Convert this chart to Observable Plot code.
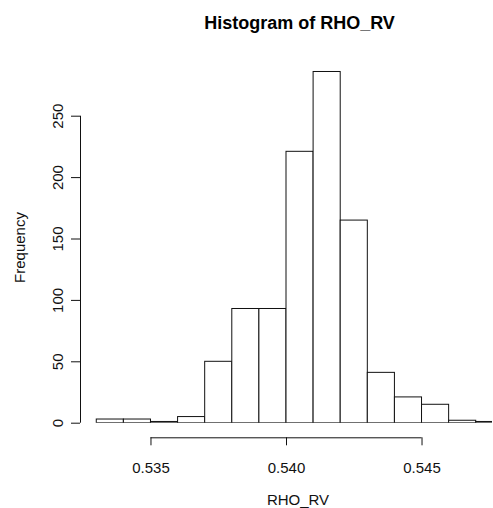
<!DOCTYPE html>
<html>
<head>
<meta charset="utf-8">
<script src="https://cdn.jsdelivr.net/npm/d3@7"></script>
<script src="https://cdn.jsdelivr.net/npm/@observablehq/plot@0.6"></script>
<style>
  body { margin: 0; background: white; }
</style>
</head>
<body>
<div id="chart"></div>
<script>
// Histogram data
const binStart = [0.533, 0.534, 0.535, 0.536, 0.537, 0.538, 0.539, 0.540, 0.541, 0.542, 0.543, 0.544, 0.545, 0.546, 0.547];
const binEnd   = [0.534, 0.535, 0.536, 0.537, 0.538, 0.539, 0.540, 0.541, 0.542, 0.543, 0.544, 0.545, 0.546, 0.547, 0.548];
const counts   = [3, 3, 1, 5, 50, 93, 93, 221, 286, 165, 41, 21, 15, 2, 1];

const xTicks = [0.535, 0.540, 0.545];
const yTicks = [0, 50, 100, 150, 200, 250];
const xDomain = [0.5324, 0.5476];
const yDomain = [0, 300];

const titleText = "Histogram of RHO_RV";
const xLabel = "RHO_RV";
const yLabel = "Frequency";

const bins = binStart.map((s, i) => ({x1: s, x2: binEnd[i], n: counts[i]}));
const font = "Liberation Sans, Arial, Helvetica, sans-serif";

const chart = Plot.plot({
  width: 493,
  height: 508,
  marginLeft: 80,
  marginRight: 1,
  marginTop: 54.3,
  marginBottom: 85.3,
  style: {fontFamily: font, fontSize: "15px", background: "white", color: "#000"},
  x: {domain: xDomain},
  y: {domain: yDomain},
  marks: [
    Plot.rectY(bins, {x1: "x1", x2: "x2", y: "n", fill: "white", stroke: "#111", strokeWidth: 1, clip: true}),
    // y axis
    Plot.ruleX(xDomain.slice(0, 1), {y1: yTicks[0], y2: yTicks[yTicks.length - 1], stroke: "#111"}),
    Plot.axisY({ticks: yTicks, tickSize: 9, tickFormat: () => "", label: null, stroke: "#111"}),
    Plot.text(yTicks, {y: d => d, text: d => String(d), frameAnchor: "left", dx: -18, rotate: -90,
      textAnchor: "middle", lineAnchor: "bottom", fontSize: 15, fill: "#111"}),
    // x axis
    Plot.ruleY([0], {x1: xTicks[0], x2: xTicks[xTicks.length - 1], dy: 14.6, stroke: "#111"}),
    Plot.axisX({ticks: xTicks, tickSize: 8, tickPadding: 16.4, dy: 14.6, tickFormat: d3.format(".3f"),
      label: null, fontSize: 15, stroke: "#111", fill: "#111"}),
    // labels
    Plot.text([titleText], {frameAnchor: "top", dx: 13, dy: -26.3, lineAnchor: "bottom",
      fontWeight: "bold", fontSize: 18, fill: "#000"}),
    Plot.text([xLabel], {frameAnchor: "bottom", dx: 11.5, dy: 81.5, lineAnchor: "bottom", fontSize: 15, fill: "#111"}),
    Plot.text([yLabel], {frameAnchor: "left", dx: -55.3, dy: 8.5, rotate: -90, textAnchor: "middle",
      lineAnchor: "bottom", fontSize: 15, fill: "#111"})
  ]
});
document.getElementById("chart").appendChild(chart);
</script>
</body>
</html>
